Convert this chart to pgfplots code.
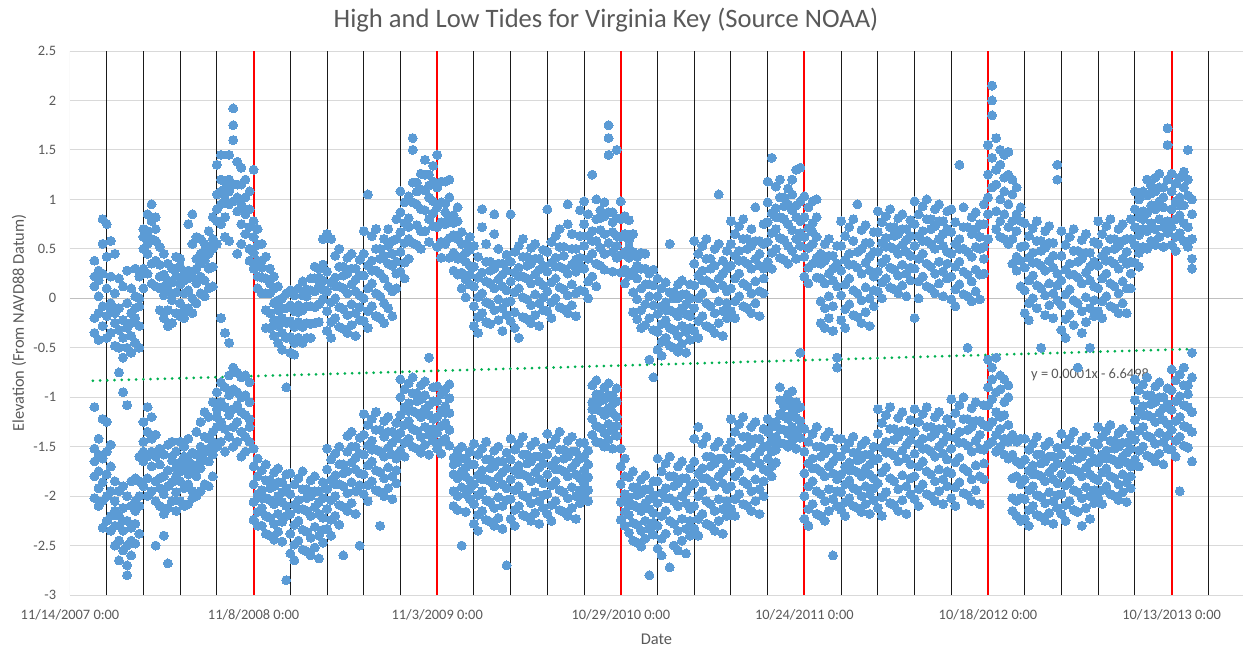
\documentclass[border=0pt]{standalone}
\usepackage{fontspec}
\setmainfont{Carlito}
\usepackage{pgfplots}
\usepackage{pgfplotstable}
\pgfplotsset{compat=1.18}
\definecolor{dotblue}{HTML}{5B9BD5}
\definecolor{txtgray}{HTML}{595959}
\definecolor{gridgray}{HTML}{D9D9D9}
\definecolor{zerogray}{HTML}{BFBFBF}
\definecolor{trendgreen}{HTML}{00B050}
\definecolor{vred}{HTML}{FF0000}
\definecolor{vblack}{HTML}{1A1A1A}
% d = days since 11/14/2007; h = high tides, l = low tides (ft, NAVD88)
\pgfplotstableread{
d h1 h2 h3 h4 h5 l1 l2 l3 l4 l5
48 0.38 0.12 -0.2 0.22 -0.35 -1.1 -1.52 -1.8 -2.02 -1.65
56 0.28 0.02 -0.15 0.18 -0.42 -1.42 -1.58 -1.92 -2.1 -1.75
64 0.8 0.55 0.25 -0.08 -0.28 -1.22 -1.62 -1.86 -2.05 -2.32
72 0.75 0.42 0.1 -0.18 -0.4 -1.25 -1.55 -1.78 -2.0 -2.25
80 0.58 0.22 -0.12 -0.35 -0.05 -1.48 -1.7 -1.95 -2.2 -2.35
88 0.45 0.05 -0.25 -0.48 -0.15 -1.85 -2.05 -2.3 -2.5 -2.15
96 0.2 -0.1 -0.32 -0.75 -0.5 -1.95 -2.2 -2.45 -2.65 -2.3
104 0.12 -0.22 -0.4 -0.95 -0.6 -1.9 -2.12 -2.35 -2.55 -2.25
112 0.28 -0.05 -0.3 -1.08 -0.5 -2.0 -2.25 -2.5 -2.8 -2.7
120 0.1 -0.15 -0.38 -0.55 -0.25 -1.85 -2.1 -2.32 -2.6 -2.45
128 0.3 0.02 -0.2 -0.45 -0.1 -1.82 -2.05 -2.28 -2.48 -2.15
136 0.22 -0.08 -0.28 -0.5 0.0 -1.6 -1.85 -2.1 -2.38 -2.0
144 0.7 0.5 0.3 0.1 0.62 -1.25 -1.45 -1.65 -1.9 -1.55
152 0.85 0.68 0.45 0.25 0.55 -1.1 -1.35 -1.6 -1.82 -2.0
160 0.95 0.78 0.6 0.35 0.15 -1.2 -1.42 -1.7 -1.95 -1.55
168 0.82 0.58 0.38 0.12 0.7 -1.38 -1.6 -1.85 -2.05 -2.5
176 0.52 0.34 0.1 -0.12 0.22 -1.52 -1.68 -1.92 -2.1 -1.82
184 0.45 0.24 0.03 -0.2 0.12 -1.58 -1.8 -1.98 -2.18 -2.4
192 0.35 0.08 -0.12 -0.28 0.18 -1.48 -1.74 -1.9 -2.12 -2.68
200 0.3 0.16 -0.02 -0.25 0.05 -1.45 -1.64 -1.86 -2.05 -1.6
208 0.42 0.22 0.06 -0.15 0.3 -1.55 -1.72 -1.96 -2.15 -1.8
216 0.32 0.14 -0.05 -0.18 0.4 -1.45 -1.66 -1.85 -2.05 -1.75
224 0.25 0.05 -0.12 0.18 -0.2 -1.5 -1.72 -1.92 -2.1 -1.6
232 0.75 0.28 0.08 -0.1 0.2 -1.42 -1.64 -1.88 -2.08 -1.78
240 0.85 0.55 0.22 0.0 -0.15 -1.56 -1.75 -1.95 -2.02 -1.68
248 0.62 0.4 0.15 -0.05 0.3 -1.35 -1.58 -1.8 -2.0 -1.7
256 0.6 0.45 0.22 0.05 0.35 -1.25 -1.5 -1.72 -1.95 -1.62
264 0.55 0.38 0.18 0.02 0.48 -1.15 -1.4 -1.64 -1.88 -1.55
272 0.68 0.45 0.3 0.1 0.52 -1.2 -1.42 -1.65 -1.9 -1.52
280 0.82 0.5 0.32 0.12 0.6 -1.05 -1.35 -1.58 -1.8 -1.45
288 1.35 1.05 0.78 0.55 0.9 -0.95 -1.12 -1.3 -1.5 -1.2
296 1.45 1.2 0.95 0.75 1.08 -0.2 -0.85 -1.05 -1.25 -1.45
304 1.18 1.0 0.82 1.1 0.62 -0.35 -0.9 -1.1 -1.32 -1.55
312 1.2 1.08 0.95 0.58 1.45 -0.45 -0.78 -0.98 -1.18 -1.4
320 1.92 1.75 1.6 1.15 0.98 -0.7 -0.92 -1.12 -1.3 -1.5
328 1.38 1.15 1.02 0.88 0.45 -0.75 -0.95 -1.08 -1.25 -1.45
336 1.32 1.15 0.95 0.75 0.55 -0.8 -1.0 -1.15 -1.35 -1.6
344 1.2 1.02 0.85 0.65 0.9 -0.78 -0.98 -1.18 -1.4 -1.55
352 1.08 0.9 0.72 0.5 0.38 -0.85 -1.05 -1.22 -1.45 -1.3
360 1.3 0.78 0.62 0.46 0.3 -1.52 -1.7 -1.88 -2.06 -2.24
368 0.7 0.54 0.38 0.22 0.1 -1.62 -1.8 -1.98 -2.16 -2.3
376 0.55 0.38 0.21 0.05 0.31 -1.74 -1.94 -2.12 -2.3 -2.02
384 0.42 0.2 0.05 -0.12 -0.3 -1.68 -1.84 -2.02 -2.2 -2.38
392 0.3 0.05 -0.15 -0.3 0.15 -1.84 -2.04 -2.22 -2.4 -1.92
400 0.22 0.1 -0.05 -0.22 -0.38 -1.76 -1.9 -2.08 -2.28 -2.44
408 0.12 -0.12 -0.28 -0.45 -0.02 -1.72 -2.0 -2.18 -2.36 -1.86
416 0.0 -0.2 -0.35 -0.52 -0.1 -1.86 -2.06 -2.26 -2.46 -1.96
424 0.05 -0.1 -0.25 -0.9 -0.4 -1.78 -1.92 -2.1 -2.85 -2.2
432 0.08 -0.07 -0.23 -0.39 -0.55 -1.77 -1.98 -2.18 -2.38 -2.58
440 0.03 -0.13 -0.29 -0.45 -0.57 -1.88 -2.09 -2.29 -2.49 -2.65
448 0.1 -0.07 -0.24 -0.4 -0.14 -1.82 -2.04 -2.25 -2.45 -2.13
456 0.17 0.03 -0.12 -0.29 -0.45 -1.75 -1.93 -2.13 -2.34 -2.54
464 0.09 -0.08 -0.25 -0.4 0.02 -1.93 -2.15 -2.36 -2.56 -2.02
472 0.2 0.08 -0.08 -0.26 -0.4 -1.84 -2.0 -2.2 -2.42 -2.6
480 0.32 0.07 -0.09 -0.25 0.2 -1.8 -2.11 -2.31 -2.52 -1.95
488 0.3 0.12 -0.06 -0.24 0.21 -1.95 -2.18 -2.4 -2.63 -2.06
496 0.6 0.34 0.18 -0.01 0.09 -1.86 -2.02 -2.22 -2.47 -2.34
504 0.65 0.27 0.07 -0.13 -0.33 -1.52 -1.73 -1.93 -2.13 -2.33
512 0.6 0.16 -0.04 -0.24 -0.4 -1.63 -1.84 -2.04 -2.24 -2.4
520 0.43 0.21 0.0 -0.2 0.12 -1.57 -1.79 -2.0 -2.2 -1.88
528 0.5 0.32 0.12 -0.09 -0.29 -1.5 -1.68 -1.88 -2.09 -2.29
536 0.32 0.1 -0.11 -0.31 0.23 -1.68 -1.9 -2.11 -2.6 -1.77
544 0.41 0.25 0.05 -0.17 -0.35 -1.39 -1.55 -1.75 -1.97 -2.15
552 0.45 0.14 -0.06 -0.27 0.3 -1.35 -1.66 -1.86 -2.07 -1.5
560 0.3 0.07 -0.15 -0.38 0.19 -1.5 -1.73 -1.95 -2.18 -1.61
568 0.39 0.23 0.03 -0.22 -0.09 -1.41 -1.57 -1.77 -2.5 -1.89
576 0.68 0.45 0.23 0.0 -0.23 -1.17 -1.38 -1.58 -1.78 -1.98
584 1.05 0.33 0.1 -0.13 -0.3 -1.28 -1.49 -1.69 -1.89 -2.05
592 0.63 0.38 0.15 -0.08 0.28 -1.22 -1.44 -1.65 -1.85 -1.53
600 0.7 0.5 0.28 0.05 -0.18 -1.15 -1.33 -1.53 -1.74 -1.94
608 0.5 0.25 0.02 -0.2 0.4 -1.33 -1.55 -1.76 -1.96 -2.3
616 0.6 0.43 0.2 -0.05 -0.25 -1.24 -1.4 -1.6 -1.82 -2.0
624 0.7 0.35 0.12 -0.1 0.53 -1.2 -1.51 -1.71 -1.92 -1.35
632 0.58 0.33 0.07 -0.18 0.45 -1.35 -1.58 -1.8 -2.03 -1.46
640 0.8 0.6 0.37 0.1 0.25 -1.26 -1.42 -1.62 -1.87 -1.74
648 1.08 0.87 0.67 0.47 0.27 -0.82 -1.0 -1.18 -1.36 -1.54
656 0.97 0.76 0.56 0.36 0.2 -0.92 -1.1 -1.28 -1.46 -1.6
664 1.03 0.81 0.6 0.4 0.72 -0.86 -1.06 -1.24 -1.42 -1.14
672 1.62 1.5 1.17 0.97 0.56 -0.8 -0.96 -1.14 -1.32 -1.5
680 1.17 0.95 0.74 0.54 1.08 -0.96 -1.16 -1.34 -1.52 -1.04
688 1.26 1.1 0.9 0.68 0.5 -0.88 -1.02 -1.2 -1.4 -1.56
696 1.4 1.09 0.89 0.68 1.25 -0.84 -1.12 -1.3 -1.48 -0.98
704 1.25 1.02 0.8 0.57 1.14 -0.6 -1.18 -1.38 -1.58 -1.08
712 1.34 1.18 0.98 0.73 0.86 -0.9 -1.04 -1.22 -1.44 -1.32
720 1.45 1.12 0.92 0.72 0.52 -0.89 -1.04 -1.2 -1.36 -1.52
728 1.18 0.97 0.77 0.57 0.41 -0.97 -1.13 -1.29 -1.45 -1.57
736 1.18 0.96 0.75 0.55 0.87 -0.92 -1.09 -1.26 -1.42 -1.16
744 1.2 1.02 0.82 0.61 0.41 -0.87 -1.01 -1.16 -1.33 -1.49
752 0.84 0.64 0.46 0.28 0.76 -1.61 -1.78 -1.95 -2.1 -1.68
760 0.92 0.78 0.6 0.4 0.24 -1.54 -1.66 -1.82 -2.0 -2.14
768 0.67 0.42 0.26 0.1 0.55 -1.5 -1.75 -1.91 -2.5 -1.62
776 0.55 0.37 0.19 0.01 0.46 -1.62 -1.8 -1.98 -2.16 -1.71
784 0.62 0.49 0.33 0.14 0.24 -1.55 -1.68 -1.84 -2.03 -1.93
792 0.53 0.32 0.12 -0.08 -0.28 -1.47 -1.68 -1.88 -2.08 -2.28
800 0.42 0.21 0.01 -0.19 -0.35 -1.58 -1.79 -1.99 -2.19 -2.35
808 0.9 0.72 0.26 0.05 -0.15 -1.52 -1.74 -1.95 -2.15 -1.83
816 0.55 0.37 0.17 -0.04 -0.24 -1.45 -1.63 -1.83 -2.04 -2.24
824 0.37 0.15 -0.06 -0.26 0.28 -1.63 -1.85 -2.06 -2.26 -1.72
832 0.85 0.65 0.3 0.1 -0.12 -1.54 -1.7 -1.9 -2.12 -2.3
840 0.5 0.19 -0.01 -0.22 0.35 -1.5 -1.81 -2.01 -2.22 -1.65
848 0.35 0.12 -0.1 -0.33 0.24 -1.65 -1.88 -2.1 -2.33 -1.76
856 0.44 0.28 0.08 -0.17 -0.04 -1.56 -1.72 -1.92 -2.7 -2.04
864 0.85 0.37 0.17 -0.03 -0.23 -1.42 -1.63 -1.83 -2.03 -2.23
872 0.47 0.26 0.06 -0.14 -0.3 -1.53 -1.74 -1.94 -2.14 -2.3
880 0.53 0.31 0.1 -0.4 0.22 -1.47 -1.69 -1.9 -2.1 -1.78
888 0.6 0.42 0.22 0.01 -0.19 -1.4 -1.58 -1.78 -1.99 -2.19
896 0.42 0.2 -0.01 -0.21 0.33 -1.58 -1.8 -2.01 -2.21 -1.67
904 0.51 0.35 0.15 -0.07 -0.25 -1.49 -1.65 -1.85 -2.07 -2.25
912 0.55 0.24 0.04 -0.17 0.4 -1.45 -1.76 -1.96 -2.17 -1.6
920 0.4 0.17 -0.05 -0.28 0.29 -1.6 -1.83 -2.05 -2.28 -1.71
928 0.49 0.33 0.13 -0.12 0.01 -1.51 -1.67 -1.87 -2.12 -1.99
936 0.9 0.47 0.27 0.07 -0.13 -1.37 -1.58 -1.78 -1.98 -2.18
944 0.57 0.36 0.16 -0.04 -0.2 -1.48 -1.69 -1.89 -2.09 -2.25
952 0.63 0.41 0.2 0.0 0.32 -1.42 -1.64 -1.85 -2.05 -1.73
960 0.7 0.52 0.32 0.11 -0.09 -1.35 -1.53 -1.73 -1.94 -2.14
968 0.52 0.3 0.09 -0.11 0.43 -1.53 -1.75 -1.96 -2.16 -1.62
976 0.95 0.75 0.25 0.03 -0.15 -1.44 -1.6 -1.8 -2.02 -2.2
984 0.65 0.34 0.14 -0.07 0.5 -1.4 -1.71 -1.91 -2.12 -1.55
992 0.5 0.27 0.05 -0.18 0.39 -1.55 -1.78 -2.0 -2.23 -1.66
1000 0.89 0.63 0.33 0.08 0.41 -1.46 -1.62 -1.82 -2.07 -1.94
1008 0.98 0.75 0.53 0.3 0.07 -1.46 -1.6 -1.74 -1.87 -2.0
1016 0.85 0.63 0.4 0.17 0.0 -1.54 -1.68 -1.81 -1.94 -2.05
1024 1.25 0.68 0.45 0.22 0.58 -0.88 -1.05 -1.22 -1.38 -1.12
1032 1.0 0.8 0.58 0.35 0.12 -0.83 -0.97 -1.12 -1.29 -1.45
1040 0.89 0.69 0.51 0.33 0.81 -0.97 -1.14 -1.31 -1.46 -1.04
1048 0.97 0.83 0.65 0.45 0.29 -0.9 -1.02 -1.18 -1.36 -1.5
1056 1.75 1.62 1.45 0.56 0.87 -0.86 -1.11 -1.27 -1.43 -0.98
1064 0.87 0.67 0.47 0.27 0.77 -0.98 -1.16 -1.34 -1.52 -1.07
1072 1.5 0.81 0.63 0.41 0.53 -0.91 -1.04 -1.2 -1.39 -1.29
1080 0.98 0.8 0.62 0.44 0.26 -1.52 -1.7 -1.88 -2.06 -2.24
1088 0.83 0.65 0.47 0.29 0.15 -1.62 -1.8 -1.98 -2.16 -2.3
1096 0.79 0.59 0.41 0.23 0.51 -1.81 -2.01 -2.19 -2.37 -2.09
1104 0.65 0.47 0.27 0.06 -0.14 -1.75 -1.91 -2.09 -2.27 -2.45
1112 0.42 0.2 -0.01 -0.21 0.33 -1.91 -2.11 -2.29 -2.47 -1.99
1120 0.46 0.3 0.1 -0.12 -0.3 -1.83 -1.97 -2.15 -2.35 -2.51
1128 0.45 0.14 -0.06 -0.27 0.3 -1.79 -2.07 -2.25 -2.43 -1.93
1136 0.25 0.02 -0.2 -0.62 0.14 -1.93 -2.13 -2.33 -2.8 -2.03
1144 0.29 0.13 -0.07 -0.32 -0.8 -1.85 -1.99 -2.17 -2.39 -2.27
1152 0.2 0.02 -0.16 -0.34 -0.52 -1.62 -1.85 -2.07 -2.3 -2.53
1160 0.1 -0.08 -0.26 -0.44 -0.58 -1.75 -1.97 -2.2 -2.43 -2.6
1168 0.16 -0.04 -0.22 -0.4 -0.12 -1.67 -1.92 -2.15 -2.38 -2.02
1176 0.55 0.06 -0.12 -0.3 -0.48 -1.6 -1.8 -2.02 -2.25 -2.72
1184 0.06 -0.14 -0.32 -0.5 0.0 -1.8 -2.05 -2.28 -2.5 -1.9
1192 0.14 0.0 -0.18 -0.38 -0.54 -1.7 -1.87 -2.1 -2.35 -2.55
1200 0.18 -0.1 -0.28 -0.46 0.04 -1.65 -2.0 -2.23 -2.45 -1.82
1208 0.04 -0.16 -0.34 -0.55 -0.06 -1.82 -2.07 -2.33 -2.58 -1.95
1216 0.14 0.0 -0.18 -0.42 -0.3 -1.72 -1.9 -2.13 -2.4 -2.25
1224 0.58 0.35 0.13 -0.1 -0.33 -1.42 -1.65 -1.87 -2.1 -2.33
1232 0.45 0.23 0.0 -0.23 -0.4 -1.3 -1.77 -2.0 -2.23 -2.4
1240 0.53 0.28 0.05 -0.18 0.18 -1.47 -1.72 -1.95 -2.18 -1.82
1248 0.6 0.4 0.18 -0.05 -0.28 -1.4 -1.6 -1.82 -2.05 -2.28
1256 0.4 0.15 -0.08 -0.3 0.3 -1.6 -1.85 -2.08 -2.3 -1.7
1264 0.5 0.33 0.1 -0.15 -0.35 -1.5 -1.67 -1.9 -2.15 -2.35
1272 1.05 0.55 0.2 -0.03 -0.25 -1.45 -1.8 -2.03 -2.25 -1.62
1280 0.38 0.13 -0.13 -0.38 0.25 -1.62 -1.87 -2.13 -2.38 -1.75
1288 0.48 0.3 0.07 -0.2 -0.05 -1.52 -1.7 -1.93 -2.2 -2.05
1296 0.78 0.55 0.33 0.1 -0.13 -1.22 -1.45 -1.67 -1.9 -2.13
1304 0.65 0.43 0.2 -0.03 -0.2 -1.35 -1.57 -1.8 -2.03 -2.2
1312 0.73 0.48 0.25 0.02 0.38 -1.27 -1.52 -1.75 -1.98 -1.62
1320 0.8 0.6 0.38 0.15 -0.08 -1.2 -1.4 -1.62 -1.85 -2.08
1328 0.6 0.35 0.12 -0.1 0.5 -1.4 -1.65 -1.88 -2.1 -1.5
1336 0.7 0.53 0.3 0.05 -0.15 -1.3 -1.47 -1.7 -1.95 -2.15
1344 0.92 0.4 0.17 -0.05 0.58 -1.25 -1.6 -1.83 -2.05 -1.42
1352 0.58 0.33 0.07 -0.18 0.45 -1.42 -1.67 -1.93 -2.18 -1.55
1360 0.75 0.55 0.3 0.05 0.2 -1.32 -1.5 -1.73 -2.0 -1.85
1368 1.18 0.97 0.77 0.57 0.37 -1.22 -1.35 -1.49 -1.62 -1.75
1376 1.42 0.86 0.66 0.46 0.3 -1.3 -1.43 -1.55 -1.7 -1.8
1384 1.13 0.91 0.7 0.5 0.82 -1.25 -1.4 -1.53 -1.66 -1.45
1392 1.2 1.02 0.82 0.61 0.41 -0.9 -1.03 -1.17 -1.32 -1.46
1400 1.02 0.8 0.59 0.39 0.93 -1.03 -1.19 -1.33 -1.47 -1.09
1408 1.11 0.95 0.75 0.53 0.35 -0.97 -1.08 -1.22 -1.37 -1.5
1416 1.2 0.89 0.69 0.48 1.05 -0.94 -1.16 -1.3 -1.44 -1.05
1424 1.3 0.82 0.6 0.4 0.94 -1.05 -1.21 -1.36 -1.52 -1.12
1432 1.32 0.98 0.78 0.53 0.66 -0.55 -1.1 -1.24 -1.41 -1.32
1440 1.03 0.82 0.62 0.42 0.22 -1.32 -1.55 -1.77 -2.0 -2.23
1448 0.92 0.71 0.51 0.31 0.15 -1.45 -1.67 -1.9 -2.13 -2.3
1456 0.98 0.76 0.55 0.35 0.67 -1.37 -1.62 -1.85 -2.08 -1.72
1464 1.0 0.82 0.62 0.41 0.21 -1.3 -1.5 -1.72 -1.95 -2.18
1472 0.45 0.2 -0.03 -0.25 0.35 -1.5 -1.75 -1.98 -2.2 -1.6
1480 0.55 0.38 0.15 -0.1 -0.3 -1.4 -1.57 -1.8 -2.05 -2.25
1488 0.6 0.25 0.02 -0.2 0.43 -1.35 -1.7 -1.93 -2.15 -1.52
1496 0.43 0.18 -0.08 -0.33 0.3 -1.52 -1.77 -2.03 -2.6 -1.65
1504 0.53 0.35 0.12 -0.6 -0.7 -1.42 -1.6 -1.83 -2.1 -1.95
1512 0.78 0.53 0.28 0.03 -0.22 -1.42 -1.6 -1.78 -1.96 -2.14
1520 0.63 0.39 0.14 -0.11 -0.3 -1.52 -1.7 -1.88 -2.06 -2.2
1528 0.72 0.45 0.2 -0.06 0.34 -1.46 -1.66 -1.84 -2.02 -1.74
1536 0.8 0.58 0.34 0.08 -0.17 -1.4 -1.56 -1.74 -1.92 -2.1
1544 0.95 0.31 0.05 -0.19 0.47 -1.56 -1.76 -1.94 -2.12 -1.64
1552 0.69 0.5 0.25 -0.02 -0.25 -1.48 -1.62 -1.8 -2.0 -2.16
1560 0.74 0.36 0.11 -0.14 0.56 -1.44 -1.72 -1.9 -2.08 -1.58
1568 0.56 0.28 0.0 -0.28 0.42 -1.58 -1.78 -1.98 -2.18 -1.68
1576 0.67 0.47 0.22 -0.08 0.08 -1.5 -1.64 -1.82 -2.04 -1.92
1584 0.88 0.67 0.47 0.27 0.07 -1.12 -1.37 -1.62 -1.87 -2.12
1592 0.77 0.56 0.36 0.16 0.0 -1.26 -1.51 -1.76 -2.01 -2.2
1600 0.83 0.61 0.4 0.2 0.52 -1.18 -1.45 -1.71 -1.96 -1.56
1608 0.9 0.72 0.52 0.31 0.11 -1.1 -1.32 -1.56 -1.82 -2.07
1616 0.72 0.5 0.29 0.09 0.63 -1.32 -1.59 -1.85 -2.09 -1.43
1624 0.81 0.65 0.45 0.23 0.05 -1.21 -1.4 -1.65 -1.93 -2.15
1632 0.85 0.54 0.34 0.13 0.7 -1.15 -1.54 -1.79 -2.04 -1.34
1640 0.7 0.47 0.25 0.02 0.59 -1.34 -1.62 -1.9 -2.18 -1.48
1648 0.79 0.63 0.43 0.18 0.31 -1.23 -1.43 -1.68 -1.98 -1.82
1656 0.98 0.75 0.53 0.3 -0.2 -1.12 -1.35 -1.57 -1.8 -2.03
1664 0.85 0.63 0.4 0.17 0.0 -1.25 -1.47 -1.7 -1.93 -2.1
1672 0.93 0.68 0.45 0.22 0.58 -1.17 -1.42 -1.65 -1.88 -1.52
1680 1.0 0.8 0.58 0.35 0.12 -1.1 -1.3 -1.52 -1.75 -1.98
1688 0.8 0.55 0.32 0.1 0.7 -1.3 -1.55 -1.78 -2.0 -1.4
1696 0.9 0.73 0.5 0.25 0.05 -1.2 -1.37 -1.6 -1.85 -2.05
1704 0.95 0.6 0.37 0.15 0.78 -1.15 -1.5 -1.73 -1.95 -1.32
1712 0.78 0.53 0.27 0.02 0.65 -1.32 -1.57 -1.83 -2.08 -1.45
1720 0.88 0.7 0.47 0.2 0.35 -1.22 -1.4 -1.63 -1.9 -1.75
1728 0.9 0.67 0.45 0.22 -0.01 -1.02 -1.27 -1.52 -1.77 -2.02
1736 0.77 0.55 0.32 0.09 -0.08 -1.16 -1.41 -1.66 -1.91 -2.1
1744 1.35 0.6 0.37 0.14 0.5 -1.08 -1.35 -1.61 -1.86 -1.46
1752 0.92 0.72 0.5 0.27 0.04 -1.0 -1.22 -1.46 -1.72 -1.97
1760 0.72 0.47 0.24 0.02 -0.5 -1.22 -1.49 -1.75 -1.99 -1.33
1768 0.82 0.65 0.42 0.17 -0.03 -1.11 -1.3 -1.55 -1.83 -2.05
1776 0.87 0.52 0.29 0.07 0.7 -1.05 -1.44 -1.69 -1.94 -1.24
1784 0.75 0.5 0.24 -0.01 0.62 -1.24 -1.52 -1.8 -2.08 -1.38
1792 0.95 0.75 0.52 0.25 0.4 -1.08 -1.28 -1.53 -1.83 -1.67
1800 1.55 1.25 1.02 0.85 0.6 -0.62 -0.9 -1.08 -1.3 -1.48
1808 2.15 2.0 1.85 1.42 1.12 -0.7 -0.82 -1.02 -1.25 -1.45
1816 1.62 1.3 1.15 0.88 0.7 -0.6 -0.95 -1.15 -1.38 -1.55
1824 1.5 1.35 1.0 0.78 0.62 -0.78 -0.92 -1.2 -1.32 -1.5
1832 1.45 1.22 1.08 0.85 0.6 -0.82 -1.05 -1.18 -1.42 -1.58
1840 1.48 1.25 0.95 0.72 0.55 -0.88 -1.0 -1.28 -1.45 -1.62
1848 1.2 1.05 0.78 0.6 0.35 -1.38 -1.58 -1.82 -2.02 -2.15
1856 1.12 0.85 0.68 0.42 0.28 -1.45 -1.65 -1.8 -2.05 -2.2
1864 0.92 0.78 0.52 0.38 0.12 -1.42 -1.68 -1.88 -2.02 -2.25
1872 0.76 0.53 0.31 0.08 -0.15 -1.42 -1.63 -1.83 -2.03 -2.23
1880 0.63 0.41 0.18 -0.05 -0.22 -1.53 -1.74 -1.94 -2.14 -2.3
1888 0.71 0.46 0.23 0.0 0.36 -1.47 -1.69 -1.9 -2.1 -1.78
1896 0.78 0.58 0.36 0.13 -0.1 -1.4 -1.58 -1.78 -1.99 -2.19
1904 0.58 0.33 0.1 -0.5 0.48 -1.58 -1.8 -2.01 -2.21 -1.67
1912 0.68 0.51 0.28 0.03 -0.17 -1.49 -1.65 -1.85 -2.07 -2.25
1920 0.73 0.38 0.15 -0.07 0.56 -1.45 -1.76 -1.96 -2.17 -1.6
1928 0.56 0.31 0.05 -0.2 0.43 -1.6 -1.83 -2.05 -2.28 -1.71
1936 1.35 1.2 0.25 -0.02 0.13 -1.51 -1.67 -1.87 -2.12 -1.99
1944 0.68 0.43 0.18 -0.07 -0.32 -1.37 -1.58 -1.78 -1.98 -2.18
1952 0.54 0.29 0.04 -0.21 -0.4 -1.48 -1.69 -1.89 -2.09 -2.25
1960 0.62 0.35 0.09 -0.16 0.24 -1.42 -1.64 -1.85 -2.05 -1.73
1968 0.7 0.48 0.24 -0.02 -0.27 -1.35 -1.53 -1.73 -1.94 -2.14
1976 0.48 0.21 -0.05 -0.7 0.37 -1.53 -1.75 -1.96 -2.16 -1.62
1984 0.59 0.4 0.15 -0.13 -0.35 -1.44 -1.6 -1.8 -2.02 -2.3
1992 0.65 0.26 0.01 -0.24 0.46 -1.4 -1.71 -1.91 -2.12 -1.55
2000 0.46 0.18 -0.1 -0.5 0.32 -1.55 -1.78 -2.0 -2.23 -1.66
2008 0.57 0.37 0.12 -0.18 -0.02 -1.46 -1.62 -1.82 -2.07 -1.94
2016 0.78 0.55 0.33 0.1 -0.13 -1.3 -1.48 -1.66 -1.84 -2.02
2024 0.65 0.43 0.2 -0.03 -0.2 -1.4 -1.58 -1.76 -1.94 -2.08
2032 0.73 0.48 0.25 0.02 0.38 -1.34 -1.54 -1.72 -1.9 -1.62
2040 0.8 0.6 0.38 0.15 -0.08 -1.28 -1.44 -1.62 -1.8 -1.98
2048 0.6 0.35 0.12 -0.1 0.5 -1.44 -1.64 -1.82 -2.0 -1.52
2056 0.7 0.53 0.3 0.05 -0.15 -1.36 -1.5 -1.68 -1.88 -2.04
2064 0.75 0.4 0.17 -0.05 0.58 -1.32 -1.6 -1.78 -1.96 -1.46
2072 0.6 0.35 0.1 -0.15 0.47 -1.46 -1.66 -1.86 -2.06 -1.56
2080 0.8 0.6 0.37 0.1 0.25 -1.38 -1.52 -1.7 -1.92 -1.8
2088 1.08 0.9 0.72 0.54 0.36 -0.82 -1.03 -1.23 -1.43 -1.63
2096 1.0 0.82 0.64 0.46 0.32 -0.93 -1.14 -1.34 -1.54 -1.7
2104 1.08 0.88 0.7 0.52 0.8 -0.87 -1.09 -1.3 -1.5 -1.18
2112 1.2 1.04 0.86 0.68 0.5 -0.8 -0.98 -1.18 -1.39 -1.59
2120 1.14 0.94 0.76 0.58 1.06 -0.98 -1.2 -1.41 -1.61 -1.07
2128 1.22 1.08 0.9 0.7 0.54 -0.89 -1.05 -1.25 -1.47 -1.65
2136 1.26 0.98 0.8 0.62 1.12 -0.85 -1.16 -1.36 -1.57 -1.0
2144 1.12 0.92 0.72 0.52 1.02 -1.0 -1.23 -1.45 -1.68 -1.11
2152 1.72 1.55 1.2 0.66 0.78 -0.91 -1.07 -1.27 -1.52 -1.39
2160 1.26 1.08 0.9 0.72 0.54 -0.72 -0.93 -1.13 -1.33 -1.53
2168 1.16 0.98 0.8 0.62 0.48 -0.83 -1.04 -1.24 -1.44 -1.6
2176 1.22 1.02 0.84 0.66 0.94 -0.77 -0.99 -1.2 -1.4 -1.95
2184 1.28 1.12 0.94 0.76 0.58 -0.7 -0.88 -1.08 -1.29 -1.49
2192 1.5 1.2 0.72 0.52 1.04 -0.88 -1.1 -1.31 -1.51 -0.97
2200 1.0 0.85 0.6 0.4 0.3 -0.55 -0.8 -1.15 -1.35 -1.65
}\tides
\begin{document}
\begin{tikzpicture}
\begin{axis}[
  name=ax, at={(0,0)}, anchor=south west,
  scale only axis, width=586.5pt, height=272pt,
  xmin=0, xmax=2300, ymin=-3, ymax=2.5,
  axis line style={draw=none},
  xtick={0,360,720,1080,1440,1800,2160},
  xticklabels={11/14/2007 0:00,11/8/2008 0:00,11/3/2009 0:00,10/29/2010 0:00,10/24/2011 0:00,10/18/2012 0:00,10/13/2013 0:00},
  ytick={-3,-2.5,-2,-1.5,-1,-0.5,0,0.5,1,1.5,2,2.5},
  yticklabels={-3,-2.5,-2,-1.5,-1,-0.5,0,0.5,1,1.5,2,2.5},
  major tick length=0pt,
  ymajorgrids, grid style={gridgray, line width=0.5pt},
  tick label style={font=\fontsize{7.2}{8.5}\selectfont, text=txtgray},
  xticklabel style={anchor=center, inner sep=0pt, yshift=-10pt},
  yticklabel style={anchor=east, inner sep=0pt, xshift=-6.75pt},
  every axis x label/.style={at={(rel axis cs:0.5,0)}, anchor=center, yshift=-22pt, font=\fontsize{8.2}{10}\selectfont, text=txtgray},
  every axis y label/.style={at={(rel axis cs:0,0.5)}, anchor=center, xshift=-25.5pt, rotate=90, font=\fontsize{8.2}{10}\selectfont, text=txtgray},
  xlabel={Date},
  ylabel={Elevation (From NAVD88 Datum)},
  every axis title shift=0pt,
  title={High and Low Tides for Virginia Key (Source NOAA)},
  title style={at={(rel axis cs:0.457,1)}, anchor=center, yshift=15.5pt, font=\fontsize{13.3}{16}\selectfont, text=txtgray},
]
\addplot[gridgray, line width=0.5pt] coordinates {(0,-3) (0,2.5)};
\addplot[zerogray, line width=0.6pt] coordinates {(0,0) (2300,0)};
\pgfplotsinvokeforeach{72,144,216,288,432,504,576,648,792,864,936,1008,1152,1224,1296,1368,1512,1584,1656,1728,1872,1944,2016,2088,2232}{
  \addplot[draw=vblack, line width=0.5pt] coordinates {(#1,-3) (#1,2.5)};
}
\pgfplotsinvokeforeach{360,720,1080,1440,1800,2160}{
  \addplot[draw=vred, line width=1pt] coordinates {(#1,-3) (#1,2.5)};
}
\pgfplotsinvokeforeach{h1,h2,h3,h4,h5,l1,l2,l3,l4,l5}{
  \addplot[only marks, mark=*, mark size=2.25pt, color=dotblue, mark options={draw=dotblue, fill=dotblue, line width=0pt}] table[x=d, y=#1] {\tides};
}
\addplot[trendgreen, line width=1.5pt, line cap=round, dash pattern=on 0pt off 3.6pt] coordinates {(45,-0.834) (2201,-0.513)};
\node[anchor=west, text=txtgray, font=\fontsize{7.2}{8.5}\selectfont, inner sep=0pt] at (axis cs:1884,-0.776) {y = 0.0001x - 6.6498};
\end{axis}
\pgfresetboundingbox
\path (-35pt,-27pt) rectangle (587pt,297.5pt);
\end{tikzpicture}
\end{document}
